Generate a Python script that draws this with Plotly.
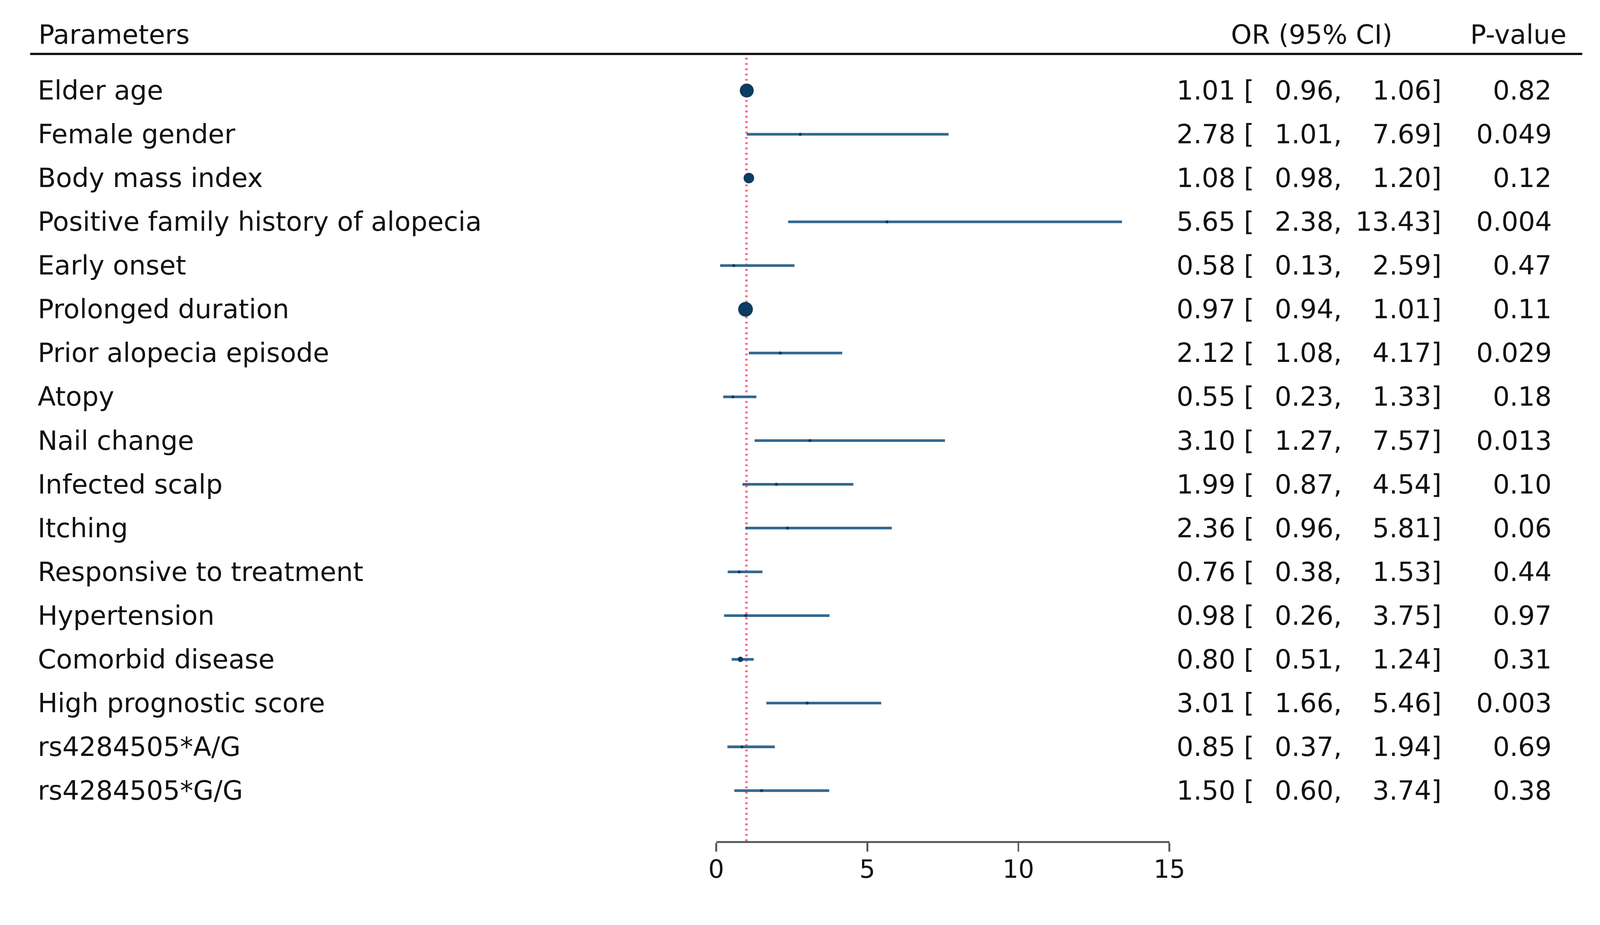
import plotly.graph_objects as go

# ---------------- data ----------------
parameters = ["Elder age", "Female gender", "Body mass index",
              "Positive family history of alopecia", "Early onset",
              "Prolonged duration", "Prior alopecia episode", "Atopy",
              "Nail change", "Infected scalp", "Itching",
              "Responsive to treatment", "Hypertension", "Comorbid disease",
              "High prognostic score", "rs4284505*A/G", "rs4284505*G/G"]
odds_ratio = [1.01, 2.78, 1.08, 5.65, 0.58, 0.97, 2.12, 0.55, 3.10, 1.99,
              2.36, 0.76, 0.98, 0.80, 3.01, 0.85, 1.50]
ci_lower = [0.96, 1.01, 0.98, 2.38, 0.13, 0.94, 1.08, 0.23, 1.27, 0.87,
            0.96, 0.38, 0.26, 0.51, 1.66, 0.37, 0.60]
ci_upper = [1.06, 7.69, 1.20, 13.43, 2.59, 1.01, 4.17, 1.33, 7.57, 4.54,
            5.81, 1.53, 3.75, 1.24, 5.46, 1.94, 3.74]
p_values = ["0.82", "0.049", "0.12", "0.004", "0.47", "0.11", "0.029",
            "0.18", "0.013", "0.10", "0.06", "0.44", "0.97", "0.31",
            "0.003", "0.69", "0.38"]
x_ticks = [0, 5, 10, 15]
null_value = 1
header_labels = ["Parameters", "OR (95% CI)", "P-value"]

# ---------------- style / layout ----------------
W, H = 4240, 2369
PLOT_L, PLOT_R = 1898, 3099      # pixel extent of x range [0, 15]
PLOT_T, PLOT_B = 140, 2230       # pixel extent of plot area
ROW0_PX, ROW_STEP = 240, 116     # first row centre, row spacing
FONT = "DejaVu Sans"
FS = 70
LINE_COLOR = "#326890"
MARK_COLOR = "#0b3c61"
marker_px = [37, 8, 28, 8, 8, 39, 8, 8, 8, 8, 8, 8, 8, 14, 8, 8, 8]

rows = list(range(len(parameters)))
y_top = -(ROW0_PX - PLOT_T) / ROW_STEP
y_bot = (PLOT_B - ROW0_PX) / ROW_STEP


def px_x(px):
    return (px - PLOT_L) / (PLOT_R - PLOT_L)


def px_y(px):
    return (PLOT_B - px) / (PLOT_B - PLOT_T)


fig = go.Figure()
fig.add_trace(go.Scatter(
    x=odds_ratio, y=rows, mode="markers",
    marker=dict(size=marker_px, color=MARK_COLOR, opacity=1,
                line=dict(width=0)),
    error_x=dict(type="data", symmetric=False,
                 array=[u - o for u, o in zip(ci_upper, odds_ratio)],
                 arrayminus=[o - l for o, l in zip(odds_ratio, ci_lower)],
                 color=LINE_COLOR, thickness=7, width=0),
    cliponaxis=False, showlegend=False, hoverinfo="skip"))

shapes = [
    dict(type="line", xref="x", yref="paper", x0=null_value, x1=null_value,
         y0=0, y1=px_y(150), layer="below",
         line=dict(color="#ff6b8e", width=7, dash="5px,9px")),
    dict(type="line", xref="paper", yref="paper", x0=px_x(80), x1=px_x(4193),
         y0=px_y(143), y1=px_y(143), line=dict(color="#111111", width=6)),
]

annotations = []
font = dict(family=FONT, size=FS, color="#111111")
hy = px_y(92)
annotations.append(dict(text=header_labels[0], xref="paper", yref="paper",
                        x=px_x(100), y=hy, xanchor="left", yanchor="middle",
                        showarrow=False, font=font))
annotations.append(dict(text=header_labels[1], xref="paper", yref="paper",
                        x=px_x(3476), y=hy, xanchor="center", yanchor="middle",
                        showarrow=False, font=font))
annotations.append(dict(text=header_labels[2], xref="paper", yref="paper",
                        x=px_x(4023), y=hy, xanchor="center", yanchor="middle",
                        showarrow=False, font=font))

for i, name in enumerate(parameters):
    cols = [
        (name, 98, "left"),
        (f"{odds_ratio[i]:.2f} [", 3325, "right"),
        (f"{ci_lower[i]:.2f},", 3558, "right"),
        (f"{ci_upper[i]:.2f}]", 3822, "right"),
        (p_values[i], 4114, "right"),
    ]
    for txt, xp, anc in cols:
        annotations.append(dict(text=txt, xref="paper", yref="y",
                                x=px_x(xp), y=i, xanchor=anc,
                                yanchor="middle", showarrow=False, font=font))

fig.update_layout(
    width=W, height=H,
    margin=dict(l=PLOT_L, r=W - PLOT_R, t=PLOT_T, b=H - PLOT_B, pad=0),
    paper_bgcolor="white", plot_bgcolor="white",
    shapes=shapes, annotations=annotations,
    font=dict(family=FONT, size=FS, color="#111111"),
    xaxis=dict(range=[0, 15], tickvals=x_ticks, showgrid=False,
               zeroline=False, showline=True, linecolor="#5a5a5a",
               linewidth=5, ticks="outside", ticklen=23, tickwidth=5,
               tickcolor="#5a5a5a", ticklabelstandoff=-10,
               tickfont=dict(family=FONT, size=66, color="#111111")),
    yaxis=dict(range=[y_bot, y_top], visible=False, showgrid=False,
               zeroline=False),
)

# fit the fixed-size figure into the browser viewport (no page margin)
fit_js = """
(function(){
  var gd = document.getElementById('{plot_id}');
  document.documentElement.style.margin = '0';
  document.body.style.margin = '0';
  document.documentElement.style.overflow = 'hidden';
  document.body.style.overflow = 'hidden';
  var s = Math.min(window.innerWidth / %d, window.innerHeight / %d);
  if (s > 0 && Math.abs(s - 1) > 0.0005) {
    gd.style.transformOrigin = '0 0';
    gd.style.transform = 'scale(' + s + ')';
  }
})();
""" % (W, H)

fig.write_html("out.html", post_script=fit_js,
               config={"displayModeBar": False, "staticPlot": True})
